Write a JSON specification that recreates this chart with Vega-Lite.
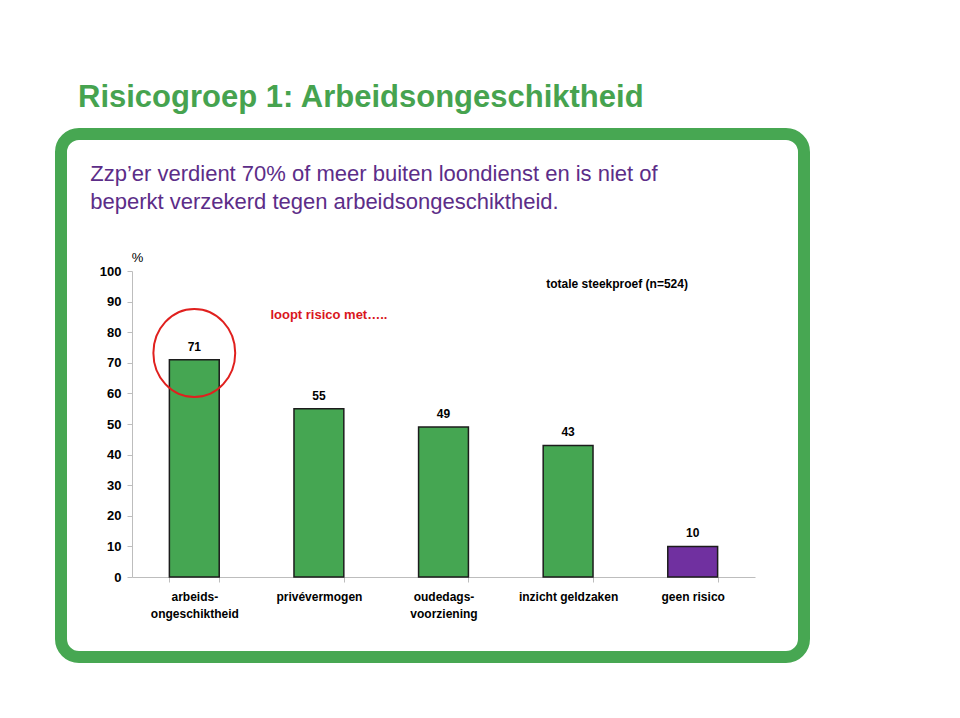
{
  "$schema": "https://vega.github.io/schema/vega-lite/v6.json",
  "autosize": "none",
  "width": 743,
  "height": 523,
  "padding": {"left": 61, "top": 134, "right": 156, "bottom": 61},
  "background": "white",
  "title": {
    "text": "Risicogroep 1: Arbeidsongeschiktheid",
    "subtitle": ["\u200b\u00a0\u00a0Zzp’er verdient 70% of meer buiten loondienst en is niet of", "\u200b\u00a0\u00a0beperkt verzekerd tegen arbeidsongeschiktheid."],
    "anchor": "start",
    "frame": "group",
    "dx": 17,
    "offset": -80,
    "font": "Liberation Sans",
    "fontSize": 31,
    "fontWeight": "bold",
    "color": "#46A34F",
    "subtitleFont": "Liberation Sans",
    "subtitleFontSize": 22,
    "subtitleColor": "#5C2D88",
    "subtitleLineHeight": 28,
    "subtitlePadding": 50
  },
  "config": {
    "view": {"stroke": "#47A752", "strokeWidth": 12, "cornerRadius": 18},
    "font": "Liberation Sans"
  },
  "datasets": {
    "bars": [
      {"categorie": "arbeids-|ongeschiktheid", "waarde": 71, "groep": "risico"},
      {"categorie": "privévermogen", "waarde": 55, "groep": "risico"},
      {"categorie": "oudedags-|voorziening", "waarde": 49, "groep": "risico"},
      {"categorie": "inzicht geldzaken", "waarde": 43, "groep": "risico"},
      {"categorie": "geen risico", "waarde": 10, "groep": "geen"}
    ],
    "note1": [
      {"categorie": "privévermogen", "waarde": 85.6, "tekst": "loopt risico met….."}
    ],
    "note2": [
      {"categorie": "inzicht geldzaken", "waarde": 95.8, "tekst": "totale steekproef (n=524)"}
    ],
    "circle": [
      {"categorie": "arbeids-|ongeschiktheid", "waarde": 73.2}
    ]
  },
  "encoding": {
    "x": {
      "field": "categorie",
      "type": "nominal",
      "sort": null,
      "scale": {"range": [71, 694], "paddingInner": 0.6, "paddingOuter": 0.3},
      "axis": {
        "title": null,
        "orient": "bottom",
        "offset": -80,
        "labelAngle": 0,
        "labelExpr": "split(datum.label, '|')",
        "labelFont": "Liberation Sans",
        "labelFontSize": 12,
        "labelFontWeight": "bold",
        "labelColor": "#000000",
        "labelPadding": 9,
        "labelLineHeight": 17,
        "labelBaseline": "top",
        "domainColor": "#BDBDBD",
        "tickColor": "#BDBDBD",
        "tickBand": "extent",
        "tickSize": 5,
        "grid": false
      }
    },
    "y": {
      "field": "waarde",
      "type": "quantitative",
      "scale": {"domain": [0, 100], "range": [443, 137], "nice": false, "zero": true},
      "axis": {
        "title": "%",
        "titleAngle": 0,
        "titleX": 5,
        "titleY": 123,
        "titleAlign": "center",
        "titleBaseline": "middle",
        "titleFont": "Liberation Sans",
        "titleFontSize": 13,
        "titleFontWeight": "normal",
        "titleColor": "#000000",
        "orient": "left",
        "offset": -71,
        "values": [0, 10, 20, 30, 40, 50, 60, 70, 80, 90, 100],
        "labelFont": "Liberation Sans",
        "labelFontSize": 13,
        "labelFontWeight": "bold",
        "labelColor": "#000000",
        "labelPadding": 6,
        "domainColor": "#BDBDBD",
        "tickColor": "#BDBDBD",
        "tickSize": 5,
        "grid": false
      }
    }
  },
  "layer": [
    {
      "data": {"name": "bars"},
      "mark": {"type": "bar", "stroke": "#1c1c1c", "strokeWidth": 1.5},
      "encoding": {
        "color": {
          "field": "groep",
          "type": "nominal",
          "scale": {"domain": ["risico", "geen"], "range": ["#45A652", "#7030A0"]},
          "legend": null
        }
      }
    },
    {
      "data": {"name": "bars"},
      "mark": {"type": "text", "dy": -13, "fontSize": 12, "fontWeight": "bold", "font": "Liberation Sans", "color": "#000000", "baseline": "middle"},
      "encoding": {"text": {"field": "waarde", "type": "quantitative"}}
    },
    {
      "data": {"name": "circle"},
      "mark": {
        "type": "point",
        "shape": "M -0.93,0 A 0.93,1 0 1,1 0.93,0 A 0.93,1 0 1,1 -0.93,0 Z",
        "size": 7744,
        "filled": false,
        "stroke": "#E0201E",
        "strokeWidth": 2,
        "opacity": 1
      },
      "encoding": {}
    },
    {
      "data": {"name": "note1"},
      "mark": {"type": "text", "fontSize": 13, "fontWeight": "bold", "font": "Liberation Sans", "baseline": "middle", "align": "center", "dx": 10, "color": "#D9161C"},
      "encoding": {"text": {"field": "tekst", "type": "nominal"}}
    },
    {
      "data": {"name": "note2"},
      "mark": {"type": "text", "fontSize": 12, "fontWeight": "bold", "font": "Liberation Sans", "baseline": "middle", "align": "center", "dx": 49, "color": "#000000"},
      "encoding": {"text": {"field": "tekst", "type": "nominal"}}
    }
  ]
}
